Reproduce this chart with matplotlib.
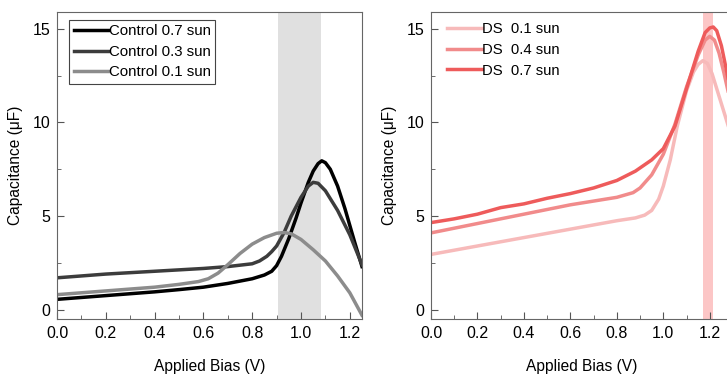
import numpy as np
import matplotlib.pyplot as plt
from matplotlib.ticker import MultipleLocator

plt.rcParams['font.family'] = ['Liberation Sans', 'DejaVu Sans']
plt.rcParams['font.size'] = 10

# control cells (left panel)
x_c07 = [0, 0.1, 0.2, 0.3, 0.4, 0.5, 0.6, 0.7, 0.8, 0.85, 0.88, 0.9, 0.92, 0.95, 0.98, 1.0,
         1.03, 1.05, 1.07, 1.085, 1.1, 1.12, 1.15, 1.18, 1.2, 1.22, 1.25]
y_c07 = [0.55, 0.65, 0.75, 0.85, 0.95, 1.07, 1.2, 1.4, 1.65, 1.85, 2.05, 2.35, 2.85, 3.8, 4.9, 5.7,
         6.8, 7.4, 7.8, 7.95, 7.85, 7.5, 6.6, 5.4, 4.5, 3.6, 2.3]
x_c03 = [0, 0.2, 0.4, 0.6, 0.7, 0.8, 0.83, 0.86, 0.88, 0.9, 0.93, 0.96, 1.0, 1.03, 1.05, 1.07,
         1.1, 1.15, 1.2, 1.25]
y_c03 = [1.7, 1.9, 2.05, 2.2, 2.3, 2.45, 2.6, 2.85, 3.1, 3.4, 4.1, 5.0, 6.0, 6.6, 6.8, 6.75,
         6.35, 5.3, 4.0, 2.4]
x_c01 = [0, 0.2, 0.4, 0.5, 0.58, 0.62, 0.66, 0.7, 0.75, 0.8, 0.85, 0.9, 0.93, 0.96, 1.0, 1.05,
         1.1, 1.15, 1.2, 1.25]
y_c01 = [0.8, 1.0, 1.2, 1.35, 1.5, 1.65, 1.95, 2.4, 3.0, 3.5, 3.85, 4.08, 4.12, 4.05, 3.75, 3.2,
         2.6, 1.8, 0.9, -0.3]

# DS cells (right panel)
x_d01 = [0, 0.2, 0.4, 0.6, 0.8, 0.88, 0.92, 0.95, 0.98, 1.0, 1.03, 1.06, 1.1, 1.13, 1.15, 1.17,
         1.19, 1.21, 1.23, 1.25, 1.27, 1.3]
y_d01 = [2.95, 3.4, 3.85, 4.3, 4.75, 4.9, 5.05, 5.3, 5.9, 6.6, 8.0, 9.8, 11.7, 12.7, 13.1, 13.3,
         13.15, 12.6, 11.8, 11.0, 10.2, 9.0]
x_d04 = [0, 0.2, 0.4, 0.6, 0.8, 0.87, 0.9, 0.95, 1.0, 1.05, 1.1, 1.15, 1.18, 1.2, 1.22, 1.24,
         1.26, 1.28, 1.3]
y_d04 = [4.1, 4.6, 5.1, 5.6, 6.0, 6.25, 6.5, 7.2, 8.3, 9.9, 11.9, 13.6, 14.4, 14.6, 14.4, 13.7,
         12.7, 11.6, 10.5]
x_d07 = [0, 0.1, 0.2, 0.3, 0.4, 0.5, 0.6, 0.7, 0.8, 0.88, 0.95, 1.0, 1.05, 1.1, 1.15, 1.18,
         1.2, 1.215, 1.23, 1.25, 1.27, 1.3]
y_d07 = [4.65, 4.85, 5.1, 5.45, 5.65, 5.95, 6.2, 6.5, 6.9, 7.4, 8.0, 8.6, 9.8, 11.8, 13.8, 14.8,
         15.05, 15.1, 14.9, 14.1, 12.9, 11.0]

fig = plt.figure(figsize=(7.27, 3.79), dpi=100)
ax1 = fig.add_axes([57/727, 60/379, 305/727, 307/379])
ax2 = fig.add_axes([431/727, 60/379, 302/727, 307/379])

ax1.axvspan(0.905, 1.082, color='#e0e0e0', lw=0, zorder=0)
ax1.plot(x_c07, y_c07, color='black', lw=2.5, label='Control 0.7 sun')
ax1.plot(x_c03, y_c03, color='#3c3c3c', lw=2.5, label='Control 0.3 sun')
ax1.plot(x_c01, y_c01, color='#8c8c8c', lw=2.5, label='Control 0.1 sun')
ax1.set_xlim(0, 1.25)

ax2.axvspan(1.171, 1.214, color='#fcc6c6', lw=0, zorder=0)
ax2.plot(x_d01, y_d01, color='#f7baba', lw=2.5, label='DS  0.1 sun')
ax2.plot(x_d04, y_d04, color='#f18b8b', lw=2.5, label='DS  0.4 sun')
ax2.plot(x_d07, y_d07, color='#ee5b5b', lw=2.5, label='DS  0.7 sun')
ax2.set_xlim(0, 1.3)

for ax in (ax1, ax2):
    ax.set_ylim(-0.5, 15.9)
    ax.xaxis.set_major_locator(MultipleLocator(0.2))
    ax.xaxis.set_minor_locator(MultipleLocator(0.1))
    ax.yaxis.set_major_locator(MultipleLocator(5))
    ax.yaxis.set_minor_locator(MultipleLocator(2.5))
    ax.xaxis.set_major_formatter(plt.FuncFormatter(lambda v, p: '%.1f' % v))
    ax.tick_params(which='both', direction='in', color='#555555', labelsize=11.5, top=False, right=False)
    ax.tick_params(which='major', length=5, pad=5)
    ax.tick_params(which='minor', length=3)
    for s in ax.spines.values():
        s.set_color('#666666')
    ax.set_xlabel('Applied Bias (V)', fontsize=11.2, labelpad=13)
    ax.set_ylabel('Capacitance (\u03bcF)', fontsize=11.2, labelpad=7)

leg1 = ax1.legend(loc='upper left', bbox_to_anchor=(0.015, 1.0), handlelength=2.3, handletextpad=0.05,
                  fancybox=False, edgecolor='#444444', framealpha=1, borderpad=0.3, fontsize=10.8,
                  labelspacing=0.45)
leg1.get_frame().set_linewidth(0.8)
ax2.legend(loc='upper left', bbox_to_anchor=(0.01, 1.01), handlelength=2.3, handletextpad=0.05,
           frameon=False, fontsize=10.7, labelspacing=0.45)

fig.savefig('out.png', dpi=100)
